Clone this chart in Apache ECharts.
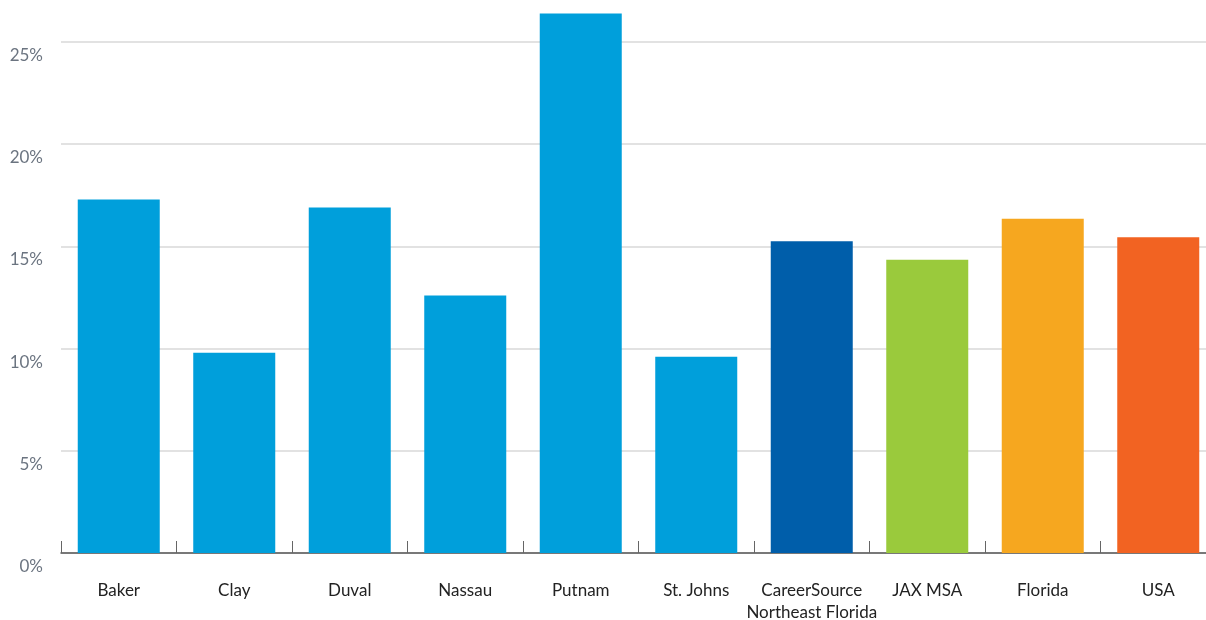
<!DOCTYPE html>
<html><head><meta charset="utf-8">
<script src="https://cdn.jsdelivr.net/npm/echarts@6/dist/echarts.min.js"></script>
<style>html,body{margin:0;padding:0;background:#fff;overflow:hidden}#c{width:1206px;height:620px}</style>
</head><body><div id="c"></div>
<script>
const categories = ['Baker','Clay','Duval','Nassau','Putnam','St. Johns','CareerSource\nNortheast Florida','JAX MSA','Florida','USA'];
const values = [17.3, 9.8, 16.9, 12.6, 26.4, 9.6, 15.25, 14.35, 16.35, 15.45];
const barColors = ['#009fdb','#009fdb','#009fdb','#009fdb','#009fdb','#009fdb','#005eaa','#9aca3c','#f6a71f','#f26322'];
const yTicks = [0,5,10,15,20,25];

const chart = echarts.init(document.getElementById('c'), null, {renderer:'canvas'});
chart.setOption({
  animation:false,
  grid:{left:61,right:-10,top:42,bottom:67,containLabel:false,outerBoundsMode:'none'},
  xAxis:{
    type:'category', data:categories,
    axisLine:{lineStyle:{color:'#555',width:1.5}},
    axisTick:{show:true,inside:true,length:12,lineStyle:{color:'#666',width:1}},
    axisLabel:{color:'#222',fontFamily:'Lato',fontSize:17,margin:27,lineHeight:22,interval:0}
  },
  yAxis:{
    type:'value', min:yTicks[0], max:yTicks[yTicks.length-1], interval:5,
    axisLine:{show:false}, axisTick:{show:false},
    splitLine:{lineStyle:{color:'#d8d8d8',width:1.5}},
    axisLabel:{color:'#6b7480',fontFamily:'Lato',fontSize:17,margin:18,verticalAlign:'top',padding:[5,0,0,0],formatter:v=>v+'%'}
  },
  series:[{
    type:'bar', clip:false, barCategoryGap:'29%',
    data: values.map((v,i)=>({value:v,itemStyle:{color:barColors[i]}}))
  }]
});
</script></body></html>
